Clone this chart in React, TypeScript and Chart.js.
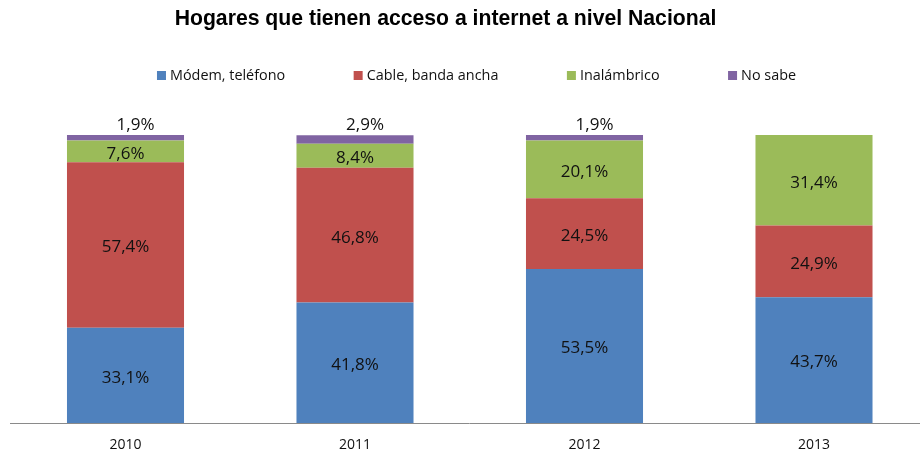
import React, { useEffect, useRef } from "react";
import { Chart, registerables } from "chart.js";

Chart.register(...registerables);

const chartTitle = "Hogares que tienen acceso a internet a nivel Nacional";
const years = ["2010", "2011", "2012", "2013"];
const seriesNames = ["Módem, teléfono", "Cable, banda ancha", "Inalámbrico", "No sabe"];
const modem = [33.1, 41.8, 53.5, 43.7];
const cable = [57.4, 46.8, 24.5, 24.9];
const inalambrico = [7.6, 8.4, 20.1, 31.4];
const noSabe = [1.9, 2.9, 1.9, 0];
const seriesColors = ["#4F81BD", "#C0504D", "#9BBB59", "#8064A2"];

const FONT = "'Open Sans', Lato, sans-serif";

const fmt = (v: number) => v.toFixed(1).replace(".", ",") + "%";

const overlayPlugin = {
  id: "overlay",
  afterDatasetsDraw(chart: any) {
    const ctx = chart.ctx;
    ctx.save();
    ctx.fillStyle = "#111111";
    ctx.font = "17px " + FONT;
    ctx.textAlign = "center";
    ctx.textBaseline = "middle";
    chart.data.datasets.forEach((ds: any, di: number) => {
      const meta = chart.getDatasetMeta(di);
      meta.data.forEach((bar: any, i: number) => {
        const v = ds.data[i];
        if (!v) return;
        const p = bar.getProps(["x", "y", "base"], true);
        if (di === 3) {
          ctx.fillText(fmt(v), p.x + 10, p.y - 10);
        } else {
          ctx.fillText(fmt(v), p.x, (p.y + p.base) / 2 + 2.5);
        }
      });
    });
    ctx.restore();
  },
  afterDraw(chart: any) {
    const ctx = chart.ctx;
    ctx.save();
    // title
    ctx.fillStyle = "#000000";
    ctx.font = "bold 21.2px 'Liberation Sans', Arial, sans-serif";
    ctx.textAlign = "center";
    ctx.textBaseline = "alphabetic";
    ctx.fillText(chartTitle, 445.5, 25);
    // legend
    ctx.font = "14.4px " + FONT;
    ctx.textAlign = "left";
    ctx.textBaseline = "middle";
    const box = 9;
    const gapText = 4;
    const gapItem = 68.5;
    const widths = seriesNames.map((s) => box + gapText + ctx.measureText(s).width);
    const total = widths.reduce((a, b) => a + b, 0) + gapItem * (seriesNames.length - 1);
    let x = 476.5 - total / 2;
    const cy = 75.5;
    seriesNames.forEach((s, i) => {
      ctx.fillStyle = seriesColors[i];
      ctx.fillRect(x, cy - box / 2, box, box);
      ctx.fillStyle = "#111111";
      ctx.fillText(s, x + box + gapText, cy);
      x += widths[i] + gapItem;
    });
    ctx.restore();
  },
};

export default function App() {
  const ref = useRef<HTMLCanvasElement | null>(null);
  useEffect(() => {
    if (!ref.current) return;
    const values = [modem, cable, inalambrico, noSabe];
    const chart = new Chart(ref.current, {
      type: "bar",
      data: {
        labels: years,
        datasets: seriesNames.map((name, i) => ({
          label: name,
          data: values[i],
          backgroundColor: seriesColors[i],
          borderWidth: 0,
          barPercentage: 0.51,
          categoryPercentage: 1,
        })),
      },
      options: {
        responsive: false,
        devicePixelRatio: 1,
        animation: false,
        layout: { padding: { left: 10.75, right: 11.25, top: 135, bottom: 2.2 } },
        plugins: {
          legend: { display: false },
          title: { display: false },
          tooltip: { enabled: false },
        },
        scales: {
          x: {
            stacked: true,
            grid: { display: false, drawTicks: false },
            border: { display: true, color: "#8a8a8a", width: 1 },
            ticks: {
              color: "#111111",
              font: { family: FONT, size: 14 },
              padding: 14,
              maxRotation: 0,
            },
          },
          y: {
            stacked: true,
            display: false,
            min: 0,
            max: 100,
          },
        },
      },
      plugins: [overlayPlugin],
    });
    let alive = true;
    const fonts = (document as any).fonts;
    if (fonts && fonts.load) {
      Promise.all([
        fonts.load("17px 'Open Sans'"),
        fonts.load("bold 21px 'Liberation Sans'"),
      ]).then(() => {
        if (alive) chart.update();
      });
    }
    return () => {
      alive = false;
      chart.destroy();
    };
  }, []);
  return (
    <div
      style={{
        position: "fixed",
        left: 0,
        top: 0,
        width: 920,
        height: 455,
        overflow: "hidden",
        background: "#ffffff",
      }}
    >
      <canvas
        ref={ref}
        width={940}
        height={470}
        style={{ display: "block", width: 940, height: 470 }}
      />
    </div>
  );
}
